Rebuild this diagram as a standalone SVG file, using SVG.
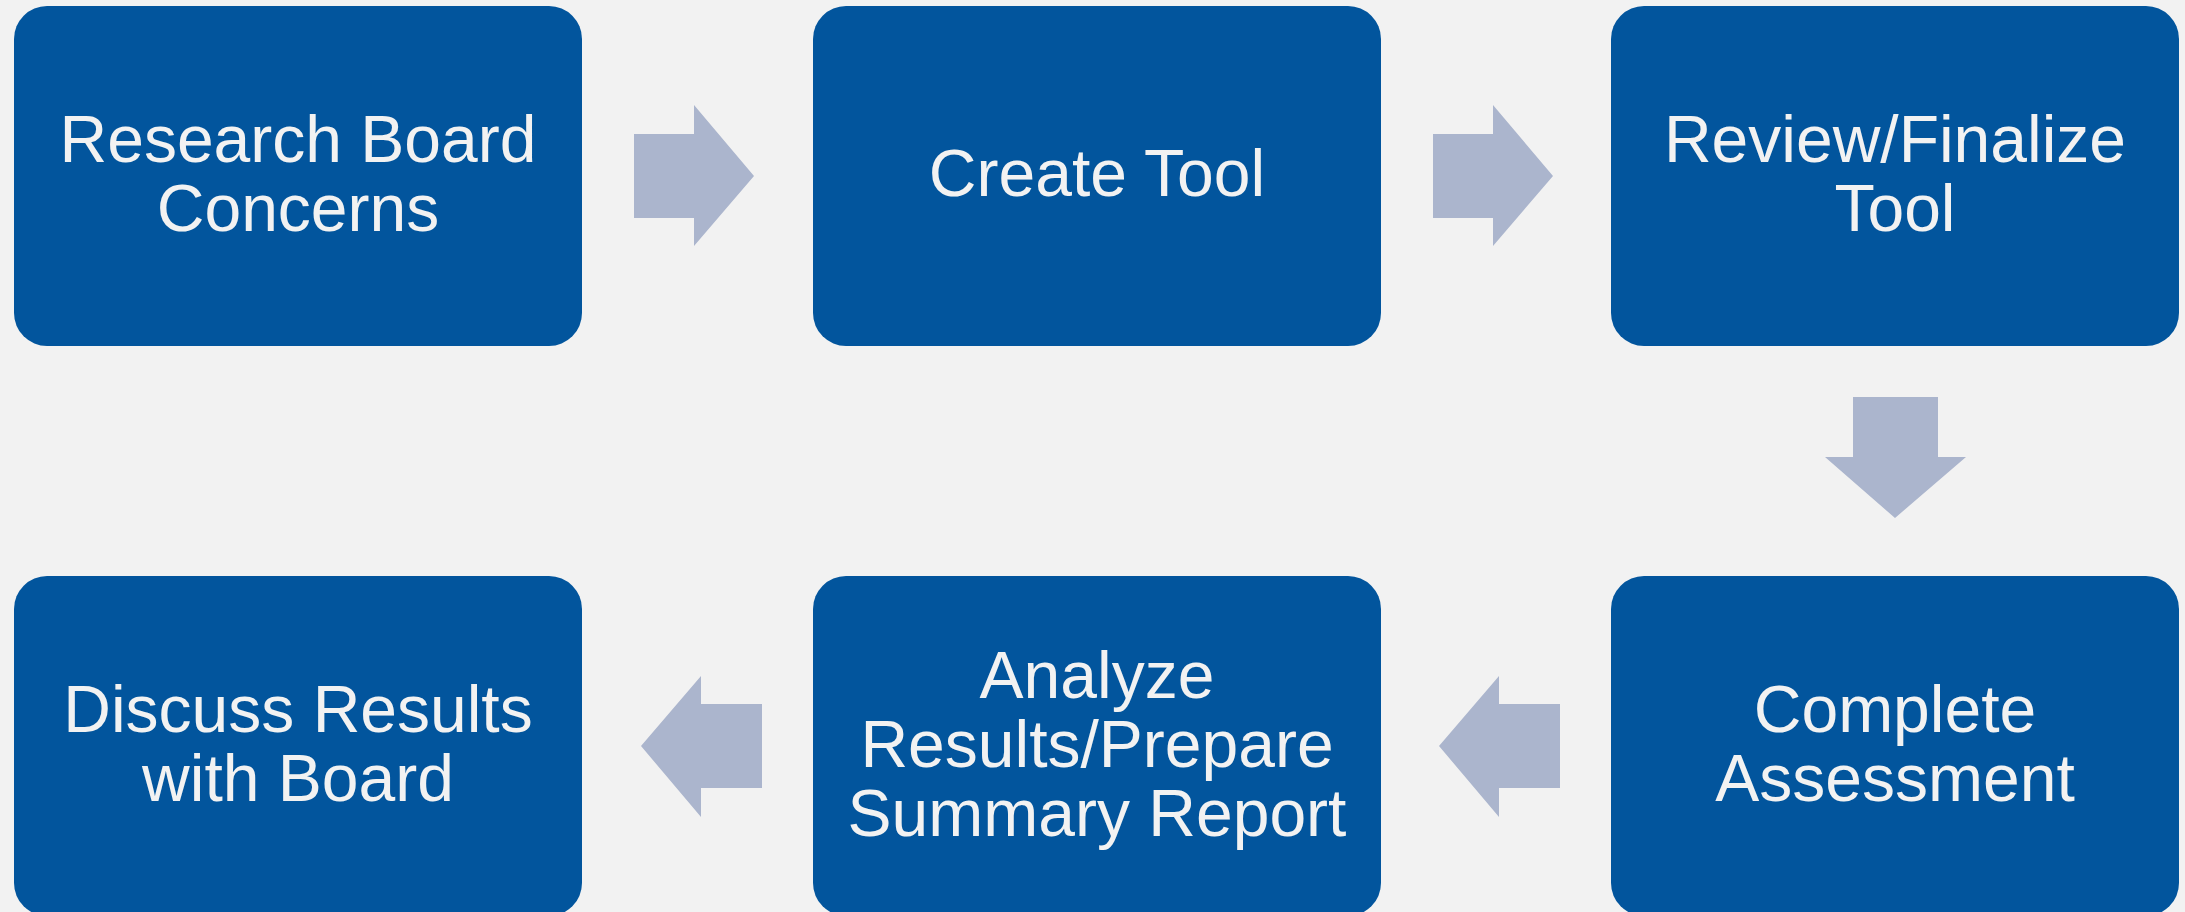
<svg xmlns="http://www.w3.org/2000/svg" width="2185" height="912" viewBox="0 0 2185 912">
  <style>
    .box { fill: #02559D; }
    .lbl { fill: #F2F2F2; font-family: "Liberation Sans", Arial, sans-serif; font-size: 66px; text-anchor: middle; }
    .arrow { fill: #ABB5CD; }
  </style>
  <rect width="2185" height="912" fill="#F2F2F2"/>

  <g id="connectors">
    <polygon class="arrow" points="634,134 694,134 694,105 754,176 694,246 694,218 634,218"/>
    <polygon class="arrow" points="1433,134 1493,134 1493,105 1553,176 1493,246 1493,218 1433,218"/>
    <polygon class="arrow" points="1853,397 1938,397 1938,457 1966,457 1895,518 1825,457 1853,457"/>
    <polygon class="arrow" points="1560,704 1499,704 1499,676 1439,746 1499,817 1499,788 1560,788"/>
    <polygon class="arrow" points="762,704 701,704 701,676 641,746 701,817 701,788 762,788"/>
  </g>

  <g id="node-research">
    <rect class="box" x="14" y="6" width="568" height="340" rx="33" ry="33"/>
    <text class="lbl" x="298" y="162">Research Board</text>
    <text class="lbl" x="298" y="231">Concerns</text>
  </g>

  <g id="node-create">
    <rect class="box" x="813" y="6" width="568" height="340" rx="33" ry="33"/>
    <text class="lbl" x="1097" y="196">Create Tool</text>
  </g>

  <g id="node-review">
    <rect class="box" x="1611" y="6" width="568" height="340" rx="33" ry="33"/>
    <text class="lbl" x="1895" y="162">Review/Finalize</text>
    <text class="lbl" x="1895" y="231">Tool</text>
  </g>

  <g id="node-complete">
    <rect class="box" x="1611" y="576" width="568" height="340" rx="33" ry="33"/>
    <text class="lbl" x="1895" y="732">Complete</text>
    <text class="lbl" x="1895" y="801">Assessment</text>
  </g>

  <g id="node-analyze">
    <rect class="box" x="813" y="576" width="568" height="340" rx="33" ry="33"/>
    <text class="lbl" x="1097" y="698">Analyze</text>
    <text class="lbl" x="1097" y="767">Results/Prepare</text>
    <text class="lbl" x="1097" y="836">Summary Report</text>
  </g>

  <g id="node-discuss">
    <rect class="box" x="14" y="576" width="568" height="340" rx="33" ry="33"/>
    <text class="lbl" x="298" y="732">Discuss Results</text>
    <text class="lbl" x="298" y="801">with Board</text>
  </g>
</svg>
